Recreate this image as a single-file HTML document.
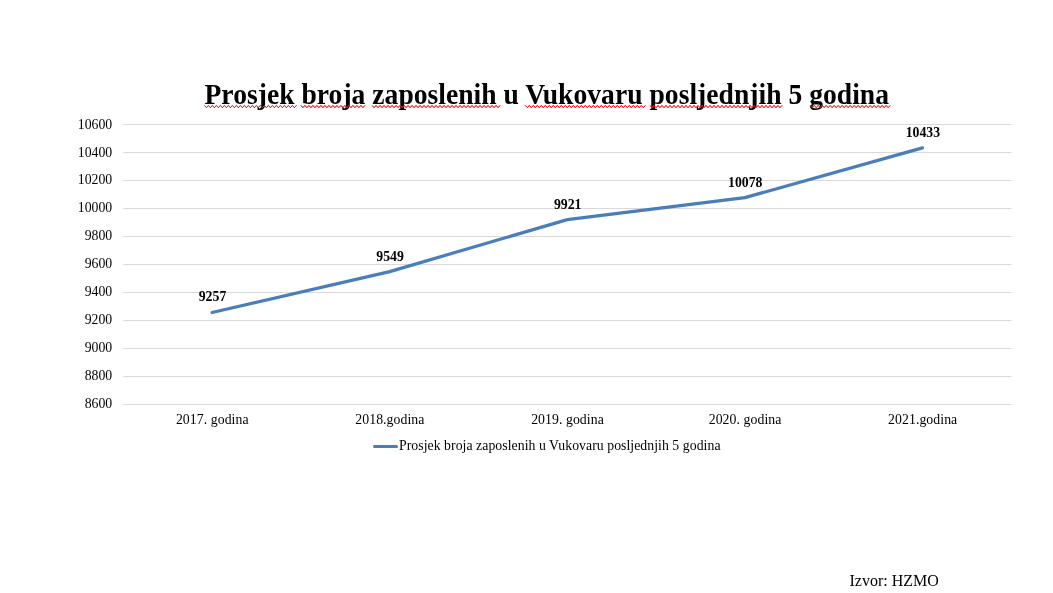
<!DOCTYPE html>
<html><head><meta charset="utf-8"><title>Chart</title>
<style>
html,body{margin:0;padding:0;background:#fff;}
body{width:1053px;height:593px;overflow:hidden;font-family:"Liberation Serif",serif;}
svg{display:block;will-change:transform;transform:translateZ(0);}
text{font-family:"Liberation Serif",serif;fill:#000;}
.ax{font-size:13.78px;}
.dl{font-size:13.78px;font-weight:bold;}
.ttl{font-size:27.6px;font-weight:bold;}
.src{font-size:16px;}
.sq{fill:none;stroke:#ff1010;stroke-width:1;stroke-linejoin:round;}
</style></head><body>
<svg width="1053" height="593" viewBox="0 0 1053 593">
<rect width="1053" height="593" fill="#fff"/>
<line x1="123.3" x2="1011.3" y1="124.5" y2="124.5" stroke="#d9d9d9" stroke-width="1"/>
<line x1="123.3" x2="1011.3" y1="152.5" y2="152.5" stroke="#d9d9d9" stroke-width="1"/>
<line x1="123.3" x2="1011.3" y1="180.5" y2="180.5" stroke="#d9d9d9" stroke-width="1"/>
<line x1="123.3" x2="1011.3" y1="208.5" y2="208.5" stroke="#d9d9d9" stroke-width="1"/>
<line x1="123.3" x2="1011.3" y1="236.5" y2="236.5" stroke="#d9d9d9" stroke-width="1"/>
<line x1="123.3" x2="1011.3" y1="264.5" y2="264.5" stroke="#d9d9d9" stroke-width="1"/>
<line x1="123.3" x2="1011.3" y1="292.5" y2="292.5" stroke="#d9d9d9" stroke-width="1"/>
<line x1="123.3" x2="1011.3" y1="320.5" y2="320.5" stroke="#d9d9d9" stroke-width="1"/>
<line x1="123.3" x2="1011.3" y1="348.5" y2="348.5" stroke="#d9d9d9" stroke-width="1"/>
<line x1="123.3" x2="1011.3" y1="376.5" y2="376.5" stroke="#d9d9d9" stroke-width="1"/>
<line x1="123.3" x2="1011.3" y1="404.5" y2="404.5" stroke="#d9d9d9" stroke-width="1"/>
<text class="ax" x="112.2" y="128.9" text-anchor="end">10600</text>
<text class="ax" x="112.2" y="156.9" text-anchor="end">10400</text>
<text class="ax" x="112.2" y="183.9" text-anchor="end">10200</text>
<text class="ax" x="112.2" y="211.9" text-anchor="end">10000</text>
<text class="ax" x="112.2" y="239.9" text-anchor="end">9800</text>
<text class="ax" x="112.2" y="267.9" text-anchor="end">9600</text>
<text class="ax" x="112.2" y="295.9" text-anchor="end">9400</text>
<text class="ax" x="112.2" y="323.9" text-anchor="end">9200</text>
<text class="ax" x="112.2" y="351.9" text-anchor="end">9000</text>
<text class="ax" x="112.2" y="379.9" text-anchor="end">8800</text>
<text class="ax" x="112.2" y="407.9" text-anchor="end">8600</text>
<text class="ax" x="212.3" y="423.8" text-anchor="middle" style="letter-spacing:0.07px">2017. godina</text>
<text class="ax" x="389.9" y="423.8" text-anchor="middle" style="letter-spacing:0.07px">2018.godina</text>
<text class="ax" x="567.5" y="423.8" text-anchor="middle" style="letter-spacing:0.07px">2019. godina</text>
<text class="ax" x="745.1" y="423.8" text-anchor="middle" style="letter-spacing:0.07px">2020. godina</text>
<text class="ax" x="922.7" y="423.8" text-anchor="middle" style="letter-spacing:0.07px">2021.godina</text>
<polyline points="212.1,312.5 389.7,271.6 567.3,219.6 744.9,197.6 922.5,147.9" fill="none" stroke="#4a7ebb" stroke-width="3.2" stroke-linecap="round" stroke-linejoin="round"/>
<text class="dl" x="212.5" y="301.2" text-anchor="middle">9257</text>
<text class="dl" x="390.1" y="261.1" text-anchor="middle">9549</text>
<text class="dl" x="567.7" y="209.1" text-anchor="middle">9921</text>
<text class="dl" x="745.3" y="187.1" text-anchor="middle">10078</text>
<text class="dl" x="922.9" y="137.4" text-anchor="middle">10433</text>
<line x1="374.5" x2="396.5" y1="446.5" y2="446.5" stroke="#4a7ebb" stroke-width="3" stroke-linecap="round"/>
<text class="ax" x="399" y="449.7" textLength="321.5" lengthAdjust="spacing">Prosjek broja zaposlenih u Vukovaru posljednjih 5 godina</text>
<text class="ttl" x="204.5" y="0" transform="translate(0,103.7) scale(1,1.035)" textLength="684.5" lengthAdjust="spacing">Prosjek broja zaposlenih u Vukovaru posljednjih 5 godina</text>
<text class="src" x="849.5" y="585.9">Izvor: HZMO</text>
<!--SQ-->
<path class="sq" d="M204.4,105.4L206.4,107.7L208.4,105.4L210.4,107.7L212.4,105.4L214.4,107.7L216.4,105.4L218.4,107.7L220.4,105.4L222.4,107.7L224.4,105.4L226.4,107.7L228.4,105.4L230.4,107.7L232.4,105.4L234.4,107.7L236.4,105.4L238.4,107.7L240.4,105.4L242.4,107.7L244.4,105.4L246.4,107.7L248.4,105.4L250.4,107.7L252.4,105.4L254.4,107.7L256.4,105.4L258.4,107.7L260.4,105.4L262.4,107.7L264.4,105.4L266.4,107.7L268.4,105.4L270.4,107.7L272.4,105.4L274.4,107.7L276.4,105.4L278.4,107.7L280.4,105.4L282.4,107.7L284.4,105.4L286.4,107.7L288.4,105.4L290.4,107.7L292.4,105.4L294.4,107.7L296.4,105.4"/><path class="sq" style="stroke-opacity:.55" d="M204.4,105.4L206.4,107.7L208.4,105.4L210.4,107.7L212.4,105.4L214.4,107.7L216.4,105.4L218.4,107.7L220.4,105.4L222.4,107.7L224.4,105.4L226.4,107.7L228.4,105.4L230.4,107.7L232.4,105.4L234.4,107.7L236.4,105.4L238.4,107.7L240.4,105.4L242.4,107.7L244.4,105.4L246.4,107.7L248.4,105.4L250.4,107.7L252.4,105.4L254.4,107.7L256.4,105.4L258.4,107.7L260.4,105.4L262.4,107.7L264.4,105.4L266.4,107.7L268.4,105.4L270.4,107.7L272.4,105.4L274.4,107.7L276.4,105.4L278.4,107.7L280.4,105.4L282.4,107.7L284.4,105.4L286.4,107.7L288.4,105.4L290.4,107.7L292.4,105.4L294.4,107.7L296.4,105.4"/>
<path class="sq" d="M300.9,105.4L302.9,107.7L304.9,105.4L306.9,107.7L308.9,105.4L310.9,107.7L312.9,105.4L314.9,107.7L316.9,105.4L318.9,107.7L320.9,105.4L322.9,107.7L324.9,105.4L326.9,107.7L328.9,105.4L330.9,107.7L332.9,105.4L334.9,107.7L336.9,105.4L338.9,107.7L340.9,105.4L342.9,107.7L344.9,105.4L346.9,107.7L348.9,105.4L350.9,107.7L352.9,105.4L354.9,107.7L356.9,105.4L358.9,107.7L360.9,105.4L362.9,107.7L364.9,105.4"/><path class="sq" style="stroke-opacity:.55" d="M300.9,105.4L302.9,107.7L304.9,105.4L306.9,107.7L308.9,105.4L310.9,107.7L312.9,105.4L314.9,107.7L316.9,105.4L318.9,107.7L320.9,105.4L322.9,107.7L324.9,105.4L326.9,107.7L328.9,105.4L330.9,107.7L332.9,105.4L334.9,107.7L336.9,105.4L338.9,107.7L340.9,105.4L342.9,107.7L344.9,105.4L346.9,107.7L348.9,105.4L350.9,107.7L352.9,105.4L354.9,107.7L356.9,105.4L358.9,107.7L360.9,105.4L362.9,107.7L364.9,105.4"/>
<path class="sq" d="M372.1,105.4L374.1,107.7L376.1,105.4L378.1,107.7L380.1,105.4L382.1,107.7L384.1,105.4L386.1,107.7L388.1,105.4L390.1,107.7L392.1,105.4L394.1,107.7L396.1,105.4L398.1,107.7L400.1,105.4L402.1,107.7L404.1,105.4L406.1,107.7L408.1,105.4L410.1,107.7L412.1,105.4L414.1,107.7L416.1,105.4L418.1,107.7L420.1,105.4L422.1,107.7L424.1,105.4L426.1,107.7L428.1,105.4L430.1,107.7L432.1,105.4L434.1,107.7L436.1,105.4L438.1,107.7L440.1,105.4L442.1,107.7L444.1,105.4L446.1,107.7L448.1,105.4L450.1,107.7L452.1,105.4L454.1,107.7L456.1,105.4L458.1,107.7L460.1,105.4L462.1,107.7L464.1,105.4L466.1,107.7L468.1,105.4L470.1,107.7L472.1,105.4L474.1,107.7L476.1,105.4L478.1,107.7L480.1,105.4L482.1,107.7L484.1,105.4L486.1,107.7L488.1,105.4L490.1,107.7L492.1,105.4L494.1,107.7L496.1,105.4L498.1,107.7L500.1,105.4"/><path class="sq" style="stroke-opacity:.55" d="M372.1,105.4L374.1,107.7L376.1,105.4L378.1,107.7L380.1,105.4L382.1,107.7L384.1,105.4L386.1,107.7L388.1,105.4L390.1,107.7L392.1,105.4L394.1,107.7L396.1,105.4L398.1,107.7L400.1,105.4L402.1,107.7L404.1,105.4L406.1,107.7L408.1,105.4L410.1,107.7L412.1,105.4L414.1,107.7L416.1,105.4L418.1,107.7L420.1,105.4L422.1,107.7L424.1,105.4L426.1,107.7L428.1,105.4L430.1,107.7L432.1,105.4L434.1,107.7L436.1,105.4L438.1,107.7L440.1,105.4L442.1,107.7L444.1,105.4L446.1,107.7L448.1,105.4L450.1,107.7L452.1,105.4L454.1,107.7L456.1,105.4L458.1,107.7L460.1,105.4L462.1,107.7L464.1,105.4L466.1,107.7L468.1,105.4L470.1,107.7L472.1,105.4L474.1,107.7L476.1,105.4L478.1,107.7L480.1,105.4L482.1,107.7L484.1,105.4L486.1,107.7L488.1,105.4L490.1,107.7L492.1,105.4L494.1,107.7L496.1,105.4L498.1,107.7L500.1,105.4"/>
<path class="sq" d="M525.3,105.4L527.3,107.7L529.3,105.4L531.3,107.7L533.3,105.4L535.3,107.7L537.3,105.4L539.3,107.7L541.3,105.4L543.3,107.7L545.3,105.4L547.3,107.7L549.3,105.4L551.3,107.7L553.3,105.4L555.3,107.7L557.3,105.4L559.3,107.7L561.3,105.4L563.3,107.7L565.3,105.4L567.3,107.7L569.3,105.4L571.3,107.7L573.3,105.4L575.3,107.7L577.3,105.4L579.3,107.7L581.3,105.4L583.3,107.7L585.3,105.4L587.3,107.7L589.3,105.4L591.3,107.7L593.3,105.4L595.3,107.7L597.3,105.4L599.3,107.7L601.3,105.4L603.3,107.7L605.3,105.4L607.3,107.7L609.3,105.4L611.3,107.7L613.3,105.4L615.3,107.7L617.3,105.4L619.3,107.7L621.3,105.4L623.3,107.7L625.3,105.4L627.3,107.7L629.3,105.4L631.3,107.7L633.3,105.4L635.3,107.7L637.3,105.4L639.3,107.7L641.3,105.4L643.3,107.7L645.3,105.4"/><path class="sq" style="stroke-opacity:.55" d="M525.3,105.4L527.3,107.7L529.3,105.4L531.3,107.7L533.3,105.4L535.3,107.7L537.3,105.4L539.3,107.7L541.3,105.4L543.3,107.7L545.3,105.4L547.3,107.7L549.3,105.4L551.3,107.7L553.3,105.4L555.3,107.7L557.3,105.4L559.3,107.7L561.3,105.4L563.3,107.7L565.3,105.4L567.3,107.7L569.3,105.4L571.3,107.7L573.3,105.4L575.3,107.7L577.3,105.4L579.3,107.7L581.3,105.4L583.3,107.7L585.3,105.4L587.3,107.7L589.3,105.4L591.3,107.7L593.3,105.4L595.3,107.7L597.3,105.4L599.3,107.7L601.3,105.4L603.3,107.7L605.3,105.4L607.3,107.7L609.3,105.4L611.3,107.7L613.3,105.4L615.3,107.7L617.3,105.4L619.3,107.7L621.3,105.4L623.3,107.7L625.3,105.4L627.3,107.7L629.3,105.4L631.3,107.7L633.3,105.4L635.3,107.7L637.3,105.4L639.3,107.7L641.3,105.4L643.3,107.7L645.3,105.4"/>
<path class="sq" d="M650.0,105.4L652.0,107.7L654.0,105.4L656.0,107.7L658.0,105.4L660.0,107.7L662.0,105.4L664.0,107.7L666.0,105.4L668.0,107.7L670.0,105.4L672.0,107.7L674.0,105.4L676.0,107.7L678.0,105.4L680.0,107.7L682.0,105.4L684.0,107.7L686.0,105.4L688.0,107.7L690.0,105.4L692.0,107.7L694.0,105.4L696.0,107.7L698.0,105.4L700.0,107.7L702.0,105.4L704.0,107.7L706.0,105.4L708.0,107.7L710.0,105.4L712.0,107.7L714.0,105.4L716.0,107.7L718.0,105.4L720.0,107.7L722.0,105.4L724.0,107.7L726.0,105.4L728.0,107.7L730.0,105.4L732.0,107.7L734.0,105.4L736.0,107.7L738.0,105.4L740.0,107.7L742.0,105.4L744.0,107.7L746.0,105.4L748.0,107.7L750.0,105.4L752.0,107.7L754.0,105.4L756.0,107.7L758.0,105.4L760.0,107.7L762.0,105.4L764.0,107.7L766.0,105.4L768.0,107.7L770.0,105.4L772.0,107.7L774.0,105.4L776.0,107.7L778.0,105.4L780.0,107.7L782.0,105.4"/><path class="sq" style="stroke-opacity:.55" d="M650.0,105.4L652.0,107.7L654.0,105.4L656.0,107.7L658.0,105.4L660.0,107.7L662.0,105.4L664.0,107.7L666.0,105.4L668.0,107.7L670.0,105.4L672.0,107.7L674.0,105.4L676.0,107.7L678.0,105.4L680.0,107.7L682.0,105.4L684.0,107.7L686.0,105.4L688.0,107.7L690.0,105.4L692.0,107.7L694.0,105.4L696.0,107.7L698.0,105.4L700.0,107.7L702.0,105.4L704.0,107.7L706.0,105.4L708.0,107.7L710.0,105.4L712.0,107.7L714.0,105.4L716.0,107.7L718.0,105.4L720.0,107.7L722.0,105.4L724.0,107.7L726.0,105.4L728.0,107.7L730.0,105.4L732.0,107.7L734.0,105.4L736.0,107.7L738.0,105.4L740.0,107.7L742.0,105.4L744.0,107.7L746.0,105.4L748.0,107.7L750.0,105.4L752.0,107.7L754.0,105.4L756.0,107.7L758.0,105.4L760.0,107.7L762.0,105.4L764.0,107.7L766.0,105.4L768.0,107.7L770.0,105.4L772.0,107.7L774.0,105.4L776.0,107.7L778.0,105.4L780.0,107.7L782.0,105.4"/>
<path class="sq" d="M810.2,105.4L812.2,107.7L814.2,105.4L816.2,107.7L818.2,105.4L820.2,107.7L822.2,105.4L824.2,107.7L826.2,105.4L828.2,107.7L830.2,105.4L832.2,107.7L834.2,105.4L836.2,107.7L838.2,105.4L840.2,107.7L842.2,105.4L844.2,107.7L846.2,105.4L848.2,107.7L850.2,105.4L852.2,107.7L854.2,105.4L856.2,107.7L858.2,105.4L860.2,107.7L862.2,105.4L864.2,107.7L866.2,105.4L868.2,107.7L870.2,105.4L872.2,107.7L874.2,105.4L876.2,107.7L878.2,105.4L880.2,107.7L882.2,105.4L884.2,107.7L886.2,105.4L888.2,107.7L890.2,105.4"/><path class="sq" style="stroke-opacity:.55" d="M810.2,105.4L812.2,107.7L814.2,105.4L816.2,107.7L818.2,105.4L820.2,107.7L822.2,105.4L824.2,107.7L826.2,105.4L828.2,107.7L830.2,105.4L832.2,107.7L834.2,105.4L836.2,107.7L838.2,105.4L840.2,107.7L842.2,105.4L844.2,107.7L846.2,105.4L848.2,107.7L850.2,105.4L852.2,107.7L854.2,105.4L856.2,107.7L858.2,105.4L860.2,107.7L862.2,105.4L864.2,107.7L866.2,105.4L868.2,107.7L870.2,105.4L872.2,107.7L874.2,105.4L876.2,107.7L878.2,105.4L880.2,107.7L882.2,105.4L884.2,107.7L886.2,105.4L888.2,107.7L890.2,105.4"/>
<!--/SQ-->
</svg></body></html>
